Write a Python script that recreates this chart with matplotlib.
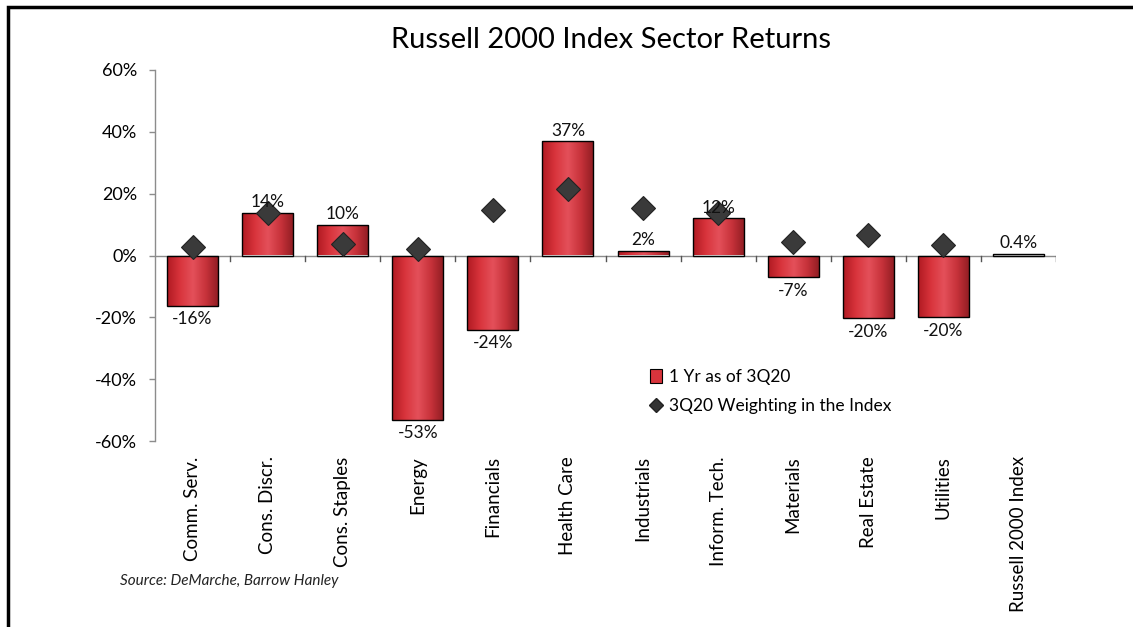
import numpy as np
import matplotlib
matplotlib.use("Agg")
import matplotlib.pyplot as plt
from matplotlib.colors import LinearSegmentedColormap
from matplotlib.patches import Patch, Rectangle
from matplotlib.lines import Line2D

plt.rcParams['font.family'] = ['Lato', 'DejaVu Sans']

sectors = ['Comm. Serv.', 'Cons. Discr.', 'Cons. Staples', 'Energy', 'Financials',
           'Health Care', 'Industrials', 'Inform. Tech.', 'Materials', 'Real Estate',
           'Utilities', 'Russell 2000 Index']
returns_1yr = [-16.3, 13.8, 9.8, -53.1, -24.0, 36.9, 1.6, 12.0, -7.0, -20.2, -20.0, 0.4]
return_labels = ['-16%', '14%', '10%', '-53%', '-24%', '37%', '2%', '12%', '-7%', '-20%', '-20%', '0.4%']
weights = [2.7, 13.7, 3.7, 2.1, 14.7, 21.5, 15.4, 13.7, 4.4, 6.6, 3.4, np.nan]

fig = plt.figure(figsize=(11.33, 6.27), dpi=100)
ax = fig.add_axes([155 / 1133, 1 - 441 / 627, 901 / 1133, 371 / 627])

x = np.arange(len(sectors))
ax.set_xlim(-0.5, len(sectors) - 0.5)
ax.set_ylim(-60, 60)

# bars with a horizontal red gradient
cmap = LinearSegmentedColormap.from_list(
    'barred', ['#b01a22', '#d8343c', '#e4505a', '#c7323a', '#8e1c22'])
grad = np.linspace(0, 1, 256).reshape(1, -1)
bars = ax.bar(x, returns_1yr, width=0.68, color='none', edgecolor='black', lw=1.0, zorder=3)
for b in bars:
    x0, y0 = b.get_x(), b.get_y()
    w, h = b.get_width(), b.get_height()
    im = ax.imshow(grad, extent=[x0, x0 + w, y0, y0 + h], aspect='auto',
                   cmap=cmap, zorder=2, interpolation='bicubic')
    clip = Rectangle((x0, y0), w, h, transform=ax.transData)
    im.set_clip_path(clip)
ax.set_xlim(-0.5, len(sectors) - 0.5)
ax.set_ylim(-60, 60)

# weighting markers
ax.plot(x, weights, linestyle='none', marker='D', markersize=12,
        markerfacecolor='#3a3a3a', markeredgecolor='#222222', markeredgewidth=0.8, zorder=5)

# data labels
for xi, v, lab in zip(x, returns_1yr, return_labels):
    if v >= 0:
        ax.annotate(lab, (xi, v), xytext=(0, 2), textcoords='offset points',
                    ha='center', va='bottom', fontsize=12.5, color='#111111', zorder=6)
    else:
        ax.annotate(lab, (xi, v), xytext=(0, -4), textcoords='offset points',
                    ha='center', va='top', fontsize=12.5, color='#111111', zorder=6)

# zero line and category boundary ticks
ax.axhline(0, color='#8c8c8c', lw=1.0, zorder=1)
for bx in np.arange(0.5, len(sectors) - 0.5, 1.0):
    ax.plot([bx, bx], [0, -1.8], color='#555555', lw=1.0, zorder=1)
ax.plot([len(sectors) - 0.5] * 2, [0, -1.8], color='#555555', lw=1.0, zorder=1)

for s in ['top', 'right', 'bottom']:
    ax.spines[s].set_visible(False)
ax.spines['left'].set_color('#8c8c8c')
ax.spines['left'].set_linewidth(1.0)

ax.set_yticks(np.arange(-60, 61, 20))
ax.yaxis.set_major_formatter(plt.FuncFormatter(lambda v, p: f'{v:.0f}%'))
ax.tick_params(axis='y', direction='out', length=4, width=1.0, color='#8c8c8c',
               labelsize=13, pad=9)
ax.set_xticks(x)
ax.set_xticklabels(sectors, rotation=90, va='top', ha='center')
ax.tick_params(axis='x', length=0, labelsize=13.5, pad=11)

# legend
handles = [Patch(facecolor='#d8343c', edgecolor='black', lw=0.8),
           Line2D([], [], linestyle='none', marker='D', markersize=7,
                  markerfacecolor='#333333', markeredgecolor='#222222')]
ax.legend(handles, ['1 Yr as of 3Q20', '3Q20 Weighting in the Index'],
          loc='upper left', bbox_to_anchor=(488 / 901, (441 - 362) / 371),
          frameon=False, fontsize=12.5, handlelength=0.7, handleheight=0.9,
          handletextpad=0.4, labelspacing=0.75, borderaxespad=0)

fig.text(611 / 1133, 1 - 40 / 627, 'Russell 2000 Index Sector Returns',
         ha='center', va='center', fontsize=21, color='black')
fig.text(120 / 1133, 1 - 581 / 627, 'Source: DeMarche, Barrow Hanley',
         ha='left', va='center', fontsize=11, style='italic', color='#222222')

# outer frame (left and top edges visible)
fig.patches.append(Rectangle((8 / 1133, -0.05), 1.2, 1 - 7 / 627 + 0.05,
                             transform=fig.transFigure, fill=False,
                             edgecolor='black', lw=2.5))

fig.savefig('out.png', dpi=100)
